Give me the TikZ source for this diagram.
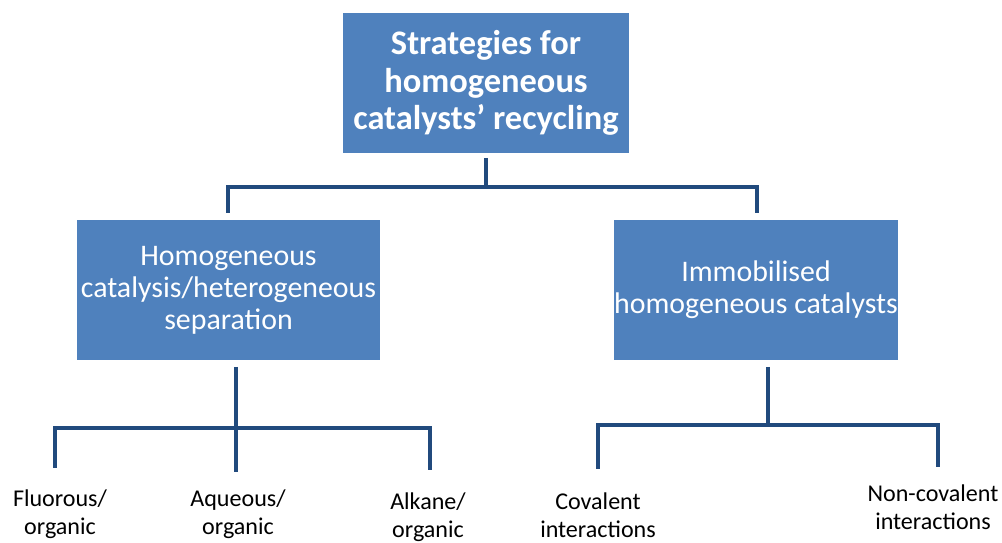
\documentclass[tikz,border=0pt]{standalone}
\usepackage{fontspec}
\setmainfont{Carlito}
\usetikzlibrary{positioning}
\definecolor{boxblue}{RGB}{79,129,189}
\definecolor{linkblue}{RGB}{33,74,125}

\begin{document}
\begin{tikzpicture}[x=0.02cm, y=-0.02cm, thick]
    \tikzstyle{box} = [rectangle, fill=boxblue, text=white, align=center, minimum height=2.8cm, inner sep=0pt]
    \tikzstyle{link} = [draw=linkblue, line width=2.8pt]
    \tikzstyle{leaf} = [align=center, font=\fontsize{13.7}{16}\selectfont, inner sep=0pt]

    \useasboundingbox (0,0) rectangle (1002,543);

    \node [box, minimum width=5.72cm, font=\fontsize{19.6}{21.5}\selectfont\bfseries] (strat) at (486,83) {Strategies for\\homogeneous\\catalysts’ recycling};
    \node [box, minimum width=6.06cm, font=\fontsize{17}{18.2}\selectfont] (homcat) at (228.5,290) {Homogeneous\\catalysis/heterogeneous\\separation};
    \node [box, minimum width=5.68cm, font=\fontsize{17}{18.2}\selectfont] (immob) at (756,290) {Immobilised\\homogeneous catalysts};

    \node [leaf] (fluor) at (60,514) {Fluorous/\\organic};
    \node [leaf] (aqueo) at (238,514) {Aqueous/\\organic};
    \node [leaf] (alkan) at (428,517) {Alkane/\\organic};
    \node [leaf] (coval) at (598,515) {Covalent\\interactions};
    \node [leaf] (noncov) at (933,507) {Non-covalent\\interactions};

    % top bracket
    \coordinate (s0) at (486,158);
    \coordinate (s1) at (486,187);
    \coordinate (d1) at (228,213);
    \coordinate (d2) at (757,213);
    \draw [link] (s0) -- (s1);
    \draw [link] (d1) |- (s1) -| (d2);

    % left bracket
    \coordinate (h0) at (236,367);
    \coordinate (h1) at (236,428);
    \coordinate (f1) at (55,468);
    \coordinate (q1) at (236,472);
    \coordinate (k1) at (430,470);
    \draw [link] (h0) -- (q1);
    \draw [link] (f1) |- (h1) -| (k1);

    % right bracket
    \coordinate (i0) at (768,367);
    \coordinate (i1) at (768,425);
    \coordinate (c1) at (598,469);
    \coordinate (n1) at (938,467);
    \draw [link] (i0) -- (i1);
    \draw [link] (c1) |- (i1) -| (n1);
\end{tikzpicture}
\end{document}
